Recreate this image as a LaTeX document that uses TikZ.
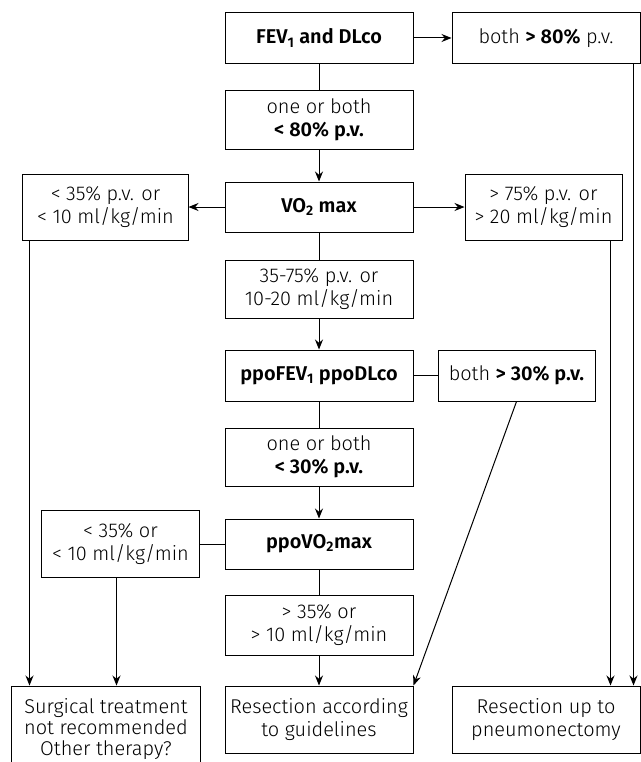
\documentclass[tikz,border=0pt]{standalone}
\usepackage{fontspec}
\setmainfont{Fira Sans Light}[BoldFont={Fira Sans SemiBold}]
\usetikzlibrary{arrows.meta,positioning}

\begin{document}
\begin{tikzpicture}[x=1bp,y=-1bp,->,>={Stealth[length=10bp,width=8bp]},
    line width=1bp,node distance=26bp,
    box/.style={draw,align=center,inner sep=2bp,
      font=\fontsize{20}{23}\selectfont},
    wide box/.style={box,minimum width=188bp},
    side box/.style={box,minimum width=157bp}]
    \useasboundingbox (0,0) rectangle (641,762);

    \node[wide box,minimum height=50bp] (fev) at (319,38) {\textbf{FEV\textsubscript{1} and DLco}};
    \node[wide box,minimum height=50bp] (both80) [right=38bp of fev] {both \textbf{> 80\%} p.v.};
    \node[wide box,minimum height=59bp] (one80) [below=of fev] {one or both\\\textbf{< 80\% p.v.}};
    \node[wide box,minimum height=50bp] (vo2) [below=32bp of one80] {\textbf{VO\textsubscript{2} max}};
    \node[box,minimum width=165bp,minimum height=66bp] (low35) [left=36bp of vo2] {< 35\% p.v. or\\< 10 ml/kg/min};
    \node[side box,minimum height=66bp] (hi75) [right=51bp of vo2] {> 75\% p.v. or\\> 20 ml/kg/min};
    \node[wide box,minimum height=58bp] (mid) [below=27bp of vo2] {35-75\% p.v. or\\10-20 ml/kg/min};
    \node[wide box,minimum height=51bp] (ppofev) [below=31bp of mid] {\textbf{ppoFEV\textsubscript{1} ppoDLco}};
    \node[side box,minimum height=51bp] (both30) [right=24bp of ppofev] {both \textbf{> 30\% p.v.}};
    \node[wide box,minimum height=58bp] (one30) [below=of ppofev] {one or both\\\textbf{< 30\% p.v.}};
    \node[wide box,minimum height=50bp] (ppovo2) [below=32bp of one30] {\textbf{ppoVO\textsubscript{2}max}};
    \node[side box,minimum height=67bp] (low35b) [left=25bp of ppovo2] {< 35\% or\\< 10 ml/kg/min};
    \node[wide box,minimum height=60bp] (hi35) [below=25bp of ppovo2] {> 35\% or\\> 10 ml/kg/min};
    \node[wide box,minimum height=67bp] (resg) [below=30bp of hi35] {Resection according\\to guidelines};
    \node[wide box,minimum height=67bp] (resp) [right=38bp of resg] {Resection up to\\pneumonectomy};
    \node[wide box,minimum height=86bp,anchor=north,
      font=\fontsize{20}{21}\selectfont] (surg) at ([xshift=-213bp]resg.north) {Surgical treatment\\not recommended\\Other therapy?};

    \path
    (fev) edge (both80)
          edge[-] (one80)
    (one80) edge (vo2)
    (vo2) edge (low35)
          edge (hi75)
          edge[-] (mid)
    (mid) edge (ppofev)
    (ppofev) edge[-] (both30)
             edge[-] (one30)
    (one30) edge (ppovo2)
    (ppovo2) edge[-] (low35b)
             edge[-] (hi35)
    (hi35) edge (resg)
    (both30.south) edge (resg.north east)
    ([xshift=7bp]low35.south west) edge ([xshift=7bp]low35.south west |- surg.north)
    ([xshift=-4bp]low35b.south) edge ([xshift=-4bp]low35b.south |- surg.north)
    ([xshift=-12bp]hi75.south east) edge ([xshift=-12bp]hi75.south east |- resp.north)
    ([xshift=-7bp]both80.south east) edge ([xshift=-7bp]both80.south east |- resp.north);
\end{tikzpicture}
\end{document}
